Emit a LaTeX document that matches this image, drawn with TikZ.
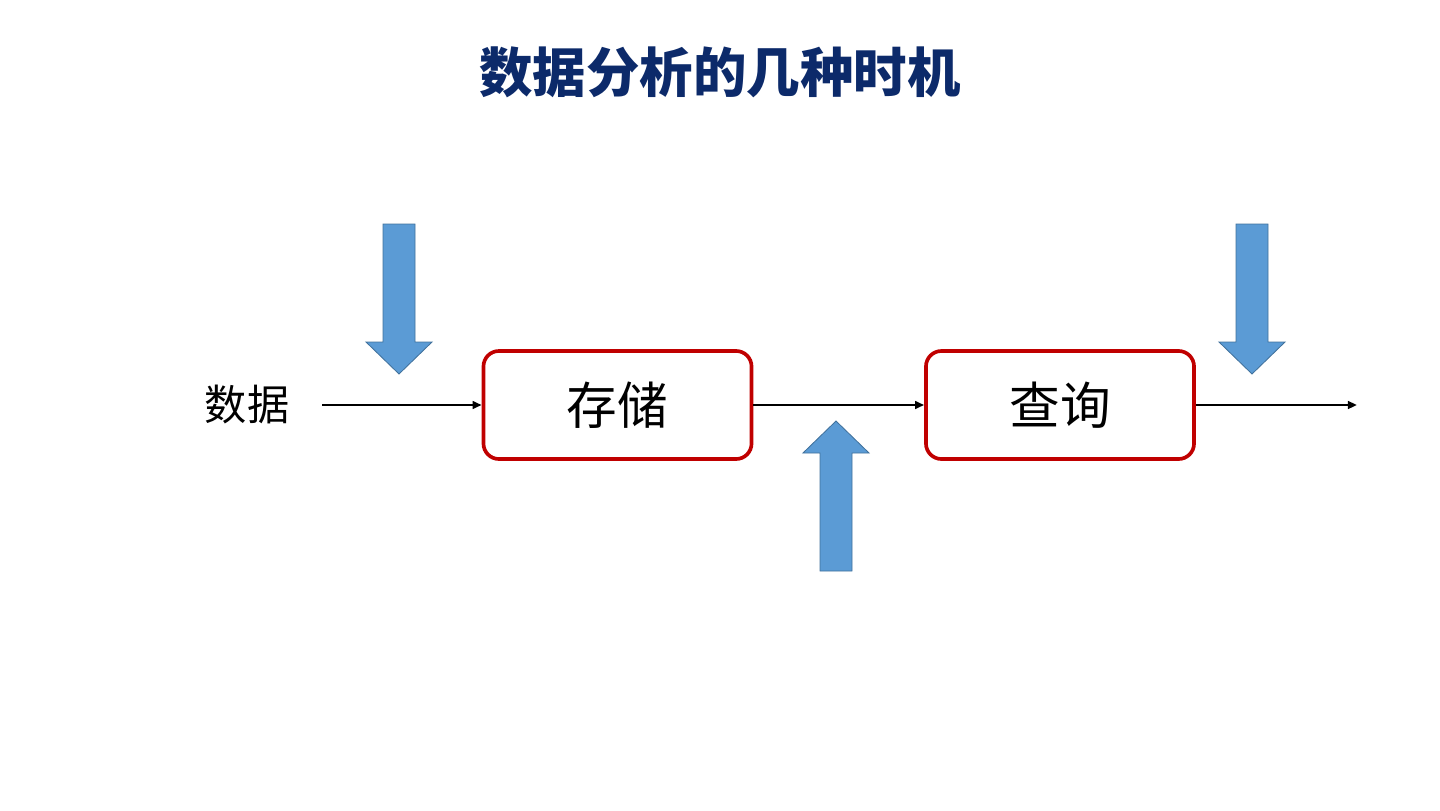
\documentclass[tikz,border=0pt]{standalone}
\usepackage{fontspec}
\newfontfamily\cjk{Noto Sans CJK SC}
\usepackage{tikz}
\usetikzlibrary{arrows.meta,positioning}
\definecolor{titlenavy}{HTML}{0C2A6A}
\definecolor{boxred}{HTML}{C00000}
\definecolor{hintblue}{HTML}{5B9BD5}
\definecolor{hintedge}{HTML}{41719C}
\tikzset{
  stage/.style={rectangle,rounded corners=11pt,minimum width=6.7cm,minimum height=2.7cm,
    draw=boxred,line width=2.6pt,fill=white,font=\cjk\fontsize{36}{40}\selectfont,inner sep=0pt},
  flow/.style={-{Triangle[length=6.5pt,width=5.5pt]},line width=1.6pt,black},
  hint/.pic={
    \draw[fill=hintblue,draw=hintedge,line width=0.6pt]
      (0,0) -- (-33,-32) -- (-16,-32) -- (-16,-150) -- (16,-150) -- (16,-32) -- (33,-32) -- cycle;
  },
}
\begin{document}
\begin{tikzpicture}[x=0.025cm,y=-0.025cm]
  \useasboundingbox (0,0) rectangle (1440,810);
  % title
  \node[font=\cjk\bfseries\fontsize{38}{44}\selectfont,text=titlenavy] (title) at (720,72) {数据分析的几种时机};
  % pipeline
  \node[font=\cjk\fontsize{30}{34}\selectfont,inner sep=0pt] (data) at (247,405) {数据};
  \node[stage] (store) at (617.5,405) {存储};
  \node[stage] (query) at (1060,405) {查询};
  \coordinate (out) at (1357,405);
  \draw[flow,shorten <=33pt*0.71] (data) -- (store);
  \draw[flow] (store) -- (query);
  \draw[flow] (query) -- (out);
  % analysis points
  \pic at (399,374) {hint};
  \pic[rotate=180] at (836,421) {hint};
  \pic at (1252,374) {hint};
\end{tikzpicture}
\end{document}
